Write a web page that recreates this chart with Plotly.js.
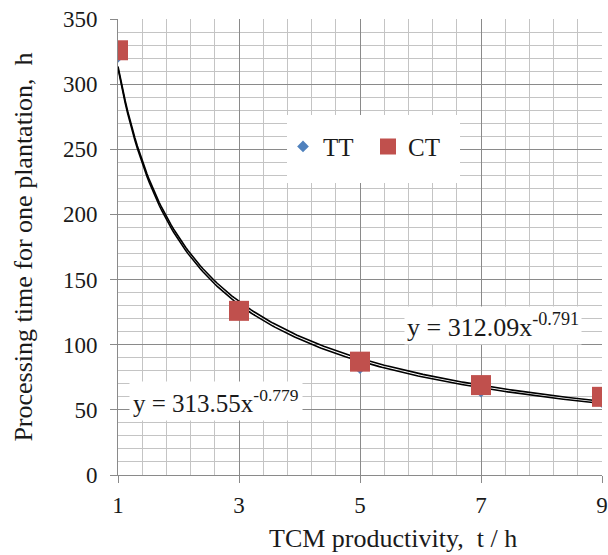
<!DOCTYPE html>
<html><head><meta charset="utf-8">
<script src="https://cdn.plot.ly/plotly-3.0.1.min.js"></script>
<style>html,body{margin:0;padding:0;background:#fff}</style>
</head><body><div id="chart" style="width:608px;height:555px"></div>
<script>
// Data
const productivity = [1, 3, 5, 7, 9];
const ttTime = [321, 123, 82, 64, 56];
const ctTime = [326, 126, 87, 69, 60];
// Power trendline coefficients shown on the chart (y = a * x^b)
const ttFit = {a: 313.55, b: -0.779, label: 'y = 313.55x<sup>-0.779</sup>'};
const ctFit = {a: 312.09, b: -0.791, label: 'y = 312.09x<sup>-0.791</sup>'};
const xTicks = [1, 3, 5, 7, 9];
const xTitle = 'TCM productivity,  t / h';
const yTitle = 'Processing time for one plantation,  h';

function curve(fit){
  const xs = [], ys = [];
  for (let i = 0; i <= 200; i++) {
    const x = 1 + i * 8 / 200;
    xs.push(x); ys.push(fit.a * Math.pow(x, fit.b));
  }
  return {xs, ys};
}
const c1 = curve(ttFit), c2 = curve(ctFit);
const font = 'Liberation Serif, Times New Roman, serif';
const txt = '#1a1a1a';

const traces = [
  {x: c1.xs, y: c1.ys, mode: 'lines', line: {color: '#000', width: 1.6}, showlegend: false, hoverinfo: 'skip'},
  {x: c2.xs, y: c2.ys, mode: 'lines', line: {color: '#000', width: 1.6}, showlegend: false, hoverinfo: 'skip'},
  {x: productivity, y: ttTime, name: 'TT', mode: 'markers', marker: {symbol: 'diamond', color: '#4F81BD', size: 9}},
  {x: productivity, y: ctTime, name: 'CT', mode: 'markers', marker: {symbol: 'square', color: '#C0504D', size: 20}}
];

const layout = {
  width: 608, height: 555,
  margin: {l: 118, r: 6, t: 19, b: 80},
  paper_bgcolor: '#fff', plot_bgcolor: '#fff',
  font: {family: font, size: 23, color: txt},
  showlegend: true,
  legend: {orientation: 'h', x: (283-118)/484, y: 0.72, xanchor: 'left', yanchor: 'middle',
    bgcolor: 'rgba(0,0,0,0)', font: {family: font, size: 25, color: txt},
    entrywidth: 40, entrywidthmode: 'pixels', tracegroupgap: 0, borderwidth: 0},
  shapes: [
    {type: 'rect', xref: 'paper', yref: 'paper', x0: (287-118)/484, x1: (460-118)/484,
     y0: 1-(183-19)/456, y1: 1-(115-19)/456, fillcolor: '#fff', line: {width: 0}, layer: 'above'}
  ],
  xaxis: {
    range: [1, 9], tickmode: 'array', tickvals: xTicks, ticktext: xTicks.map(String),
    showgrid: true, gridcolor: '#8a8a8a', gridwidth: 1,
    minor: {dtick: 0.4, tick0: 1, showgrid: true, gridcolor: '#c4c4c4', gridwidth: 1, ticks: ''},
    showline: true, linecolor: '#8a8a8a', linewidth: 1,
    ticks: 'outside', ticklen: 7, tickcolor: '#8a8a8a', ticklabelstandoff: 2,
    zeroline: false, tickfont: {family: font, size: 23, color: txt}
  },
  yaxis: {
    range: [0, 350], tickmode: 'linear', tick0: 0, dtick: 50,
    showgrid: true, gridcolor: '#8a8a8a', gridwidth: 1,
    minor: {dtick: 10, showgrid: true, gridcolor: '#c4c4c4', gridwidth: 1, ticks: ''},
    showline: true, linecolor: '#8a8a8a', linewidth: 1,
    ticks: 'outside', ticklen: 7, tickcolor: '#8a8a8a', ticklabelstandoff: 8,
    zeroline: false, tickfont: {family: font, size: 23, color: txt},
    title: {text: yTitle, font: {family: font, size: 26, color: txt}, standoff: 22}
  },
  annotations: [
    {xref: 'x', yref: 'y', x: 2.62, y: 56.8, text: ttFit.label, showarrow: false,
     bgcolor: '#fff', font: {family: font, size: 25, color: txt}, borderpad: 3},
    {xref: 'x', yref: 'y', x: 7.2, y: 114.7, text: ctFit.label, showarrow: false,
     bgcolor: '#fff', font: {family: font, size: 26, color: txt}, borderpad: 2},
    {xref: 'paper', yref: 'paper', x: (393-118)/484, y: -(538-475)/456, yanchor: 'middle',
     text: xTitle, showarrow: false, font: {family: font, size: 26, color: txt}}
  ]
};
Plotly.newPlot('chart', traces, layout, {displayModeBar: false, staticPlot: true});
</script></body></html>
